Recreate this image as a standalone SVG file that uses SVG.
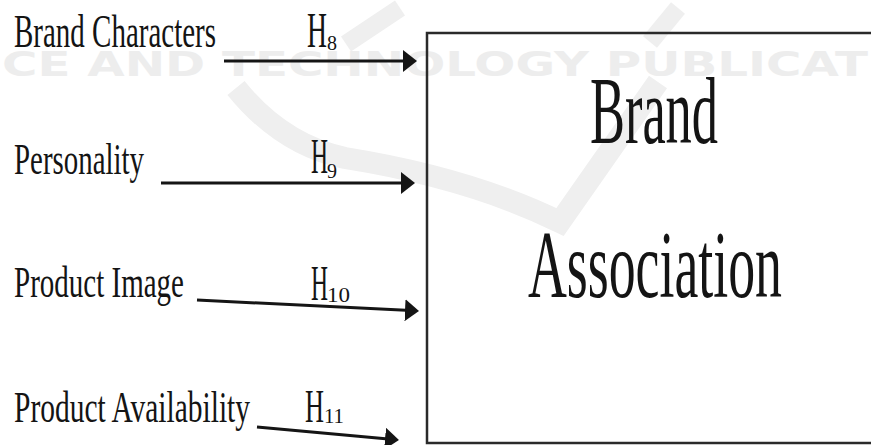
<svg xmlns="http://www.w3.org/2000/svg" width="871" height="445" viewBox="0 0 871 445">
  <style>
    .lbl { font-family: "Liberation Serif", "Times New Roman", serif; fill: #141414; }
    .wm { font-family: "DejaVu Sans", "Liberation Sans", sans-serif; font-weight: bold; fill: #ededed; }
    .wmshape { fill: none; stroke: #efefef; stroke-linecap: butt; }
    .edge { stroke: #151515; stroke-width: 3; fill: none; marker-end: url(#arrow); }
    .box { fill: none; stroke: #2a2a2a; stroke-width: 2.5; }
  </style>
  <defs>
    <marker id="arrow" markerUnits="userSpaceOnUse" markerWidth="14" markerHeight="22" viewBox="0 0 14 22" refX="6" refY="11" orient="auto">
      <path d="M0,0 L14,11 L0,22 z" fill="#151515"/>
    </marker>
  </defs>

  <rect width="871" height="445" fill="#ffffff"/>

  <!-- background publisher mark -->
  <g id="watermark">
    <path class="wmshape" stroke-width="22" d="M236 88 Q282 145 345 158 Q470 178 560 222 L658 82"/>
    <path class="wmshape" stroke-width="18" d="M346 44 L400 8"/>
    <path class="wmshape" stroke-width="18" d="M650 42 L678 8"/>
    <text class="wm" x="2" y="76" font-size="34" textLength="866" lengthAdjust="spacingAndGlyphs">CE AND TECHNOLOGY PUBLICAT</text>
  </g>

  <!-- connectors -->
  <g id="connectors">
    <line class="edge" x1="224" y1="61" x2="409" y2="61"/>
    <line class="edge" x1="161" y1="183" x2="407" y2="183"/>
    <line class="edge" x1="197" y1="300" x2="411" y2="310.6"/>
    <line class="edge" x1="257" y1="427" x2="391" y2="439.3"/>
  </g>

  <!-- hypothesis labels: H with subscript number -->
  <g id="labels">
    <text class="lbl" font-size="50"><tspan x="307" y="47" textLength="20" lengthAdjust="spacingAndGlyphs">H</tspan><tspan x="327" y="50" font-size="20">8</tspan></text>
    <text class="lbl" font-size="50"><tspan x="311" y="173" textLength="17" lengthAdjust="spacingAndGlyphs">H</tspan><tspan x="327" y="178" font-size="20">9</tspan></text>
    <text class="lbl" font-size="50"><tspan x="311" y="300" textLength="17" lengthAdjust="spacingAndGlyphs">H</tspan><tspan x="327" y="302" font-size="22" textLength="23" lengthAdjust="spacingAndGlyphs">10</tspan></text>
    <text class="lbl" font-size="46"><tspan x="305" y="422" textLength="19" lengthAdjust="spacingAndGlyphs">H</tspan><tspan x="324" y="423" font-size="20" textLength="20" lengthAdjust="spacingAndGlyphs">11</tspan></text>
  </g>

  <g id="brand-characters">
    <text class="lbl" x="14" y="47" font-size="46" textLength="202" lengthAdjust="spacingAndGlyphs">Brand Characters</text>
  </g>
  <g id="personality">
    <text class="lbl" x="14" y="174" font-size="44" textLength="130" lengthAdjust="spacingAndGlyphs">Personality</text>
  </g>
  <g id="product-image">
    <text class="lbl" x="14" y="297" font-size="45" textLength="170" lengthAdjust="spacingAndGlyphs">Product Image</text>
  </g>
  <g id="product-availability">
    <text class="lbl" x="14" y="422" font-size="45" textLength="236" lengthAdjust="spacingAndGlyphs">Product Availability</text>
  </g>

  <g id="brand-association">
    <rect class="box" x="427" y="33" width="470" height="410"/>
    <text class="lbl" x="590" y="143" font-size="95" textLength="128" lengthAdjust="spacingAndGlyphs">Brand</text>
    <text class="lbl" x="528" y="297" font-size="96" textLength="254" lengthAdjust="spacingAndGlyphs">Association</text>
  </g>
</svg>
